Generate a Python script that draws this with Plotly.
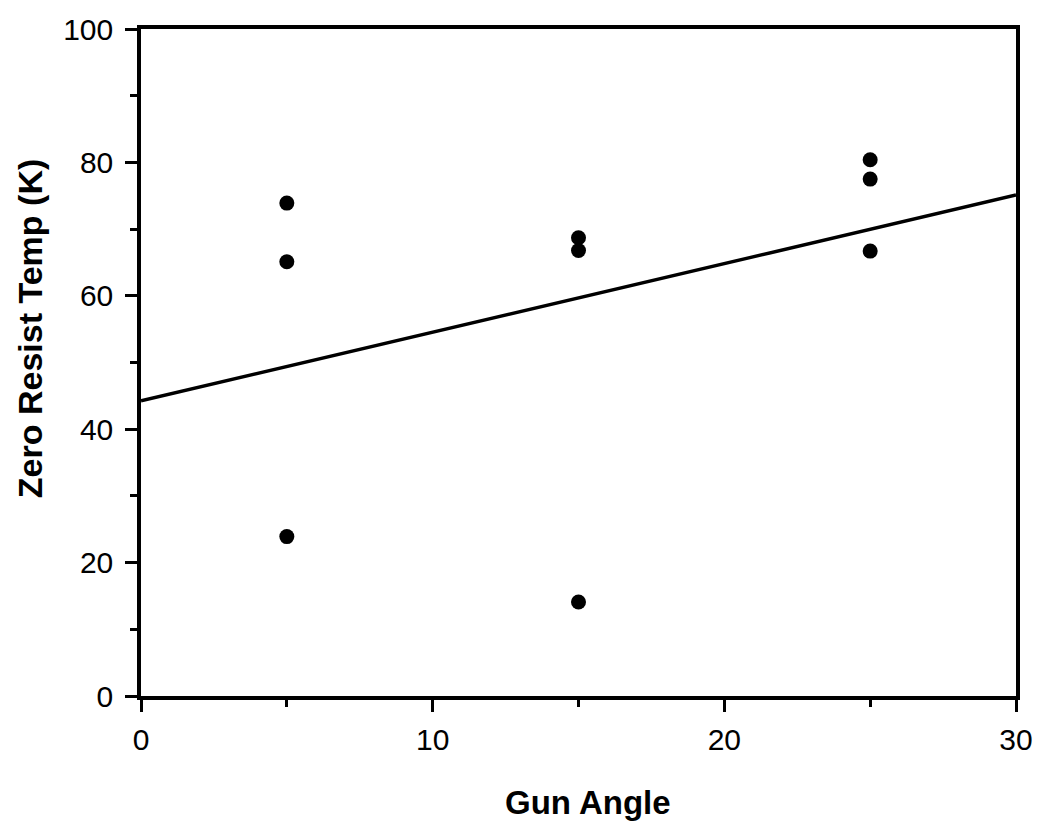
import numpy as np
import plotly.graph_objects as go

# Measured zero-resistance temperature vs. gun angle
gun_angle = [5, 5, 5, 15, 15, 15, 25, 25, 25]
zero_resist_temp = [73.9, 65.1, 23.9, 68.7, 66.8, 14.1, 80.4, 77.5, 66.7]

x_ticks = [0, 10, 20, 30]
y_ticks = [0, 20, 40, 60, 80, 100]

# Least-squares trend line across the full axis span
slope, intercept = np.polyfit(gun_angle, zero_resist_temp, 1)
fit_x = np.array([0, 30])
fit_y = slope * fit_x + intercept

FONT = "Liberation Sans, Arial, Helvetica, sans-serif"

fig = go.Figure()
fig.add_trace(go.Scatter(
    x=fit_x, y=fit_y, mode="lines",
    line=dict(color="black", width=3.5),
    showlegend=False, hoverinfo="skip",
))
fig.add_trace(go.Scatter(
    x=gun_angle, y=zero_resist_temp, mode="markers",
    marker=dict(color="black", size=15),
    showlegend=False,
))

axis_common = dict(
    showgrid=False, zeroline=False,
    showline=True, linecolor="black", linewidth=3.5, mirror=True,
    ticks="outside", ticklen=12, tickwidth=2.5, tickcolor="black",
    tickfont=dict(family=FONT, size=30, color="black"),
)

fig.update_xaxes(
    range=[0, 30], tickvals=x_ticks, ticktext=[str(v) for v in x_ticks],
    minor=dict(dtick=5, ticklen=7, tickwidth=2.5, tickcolor="black", ticks="outside"),
    ticklabelstandoff=2,
    **axis_common,
)
fig.update_yaxes(
    range=[0, 100], tickvals=y_ticks, ticktext=[str(v) for v in y_ticks],
    minor=dict(dtick=10, ticklen=7, tickwidth=2.5, tickcolor="black", ticks="outside"),
    ticklabelstandoff=6,
    **axis_common,
)

# Axis titles placed as annotations (pixel positions converted to paper units)
PL, PR, PT, PB = 141, 1020, 26, 696
fig.add_annotation(
    text="<b>Gun Angle</b>", xref="paper", yref="paper",
    x=(590 - PL) / (PR - PL), y=-(803 - PB) / (PB - PT),
    xanchor="center", yanchor="middle", showarrow=False,
    font=dict(family=FONT, size=33, color="black"),
)
fig.add_annotation(
    text="<b>Zero Resist Temp (K)</b>", xref="paper", yref="paper",
    x=-(PL - 29) / (PR - PL), y=(PB - 327) / (PB - PT),
    xanchor="center", yanchor="middle", textangle=-90, showarrow=False,
    font=dict(family=FONT, size=34, color="black"),
)

fig.update_layout(
    width=1045, height=823,
    margin=dict(l=PL, r=1045 - PR, t=PT, b=823 - PB),
    paper_bgcolor="white", plot_bgcolor="white",
)

fig.write_html("out.html")
